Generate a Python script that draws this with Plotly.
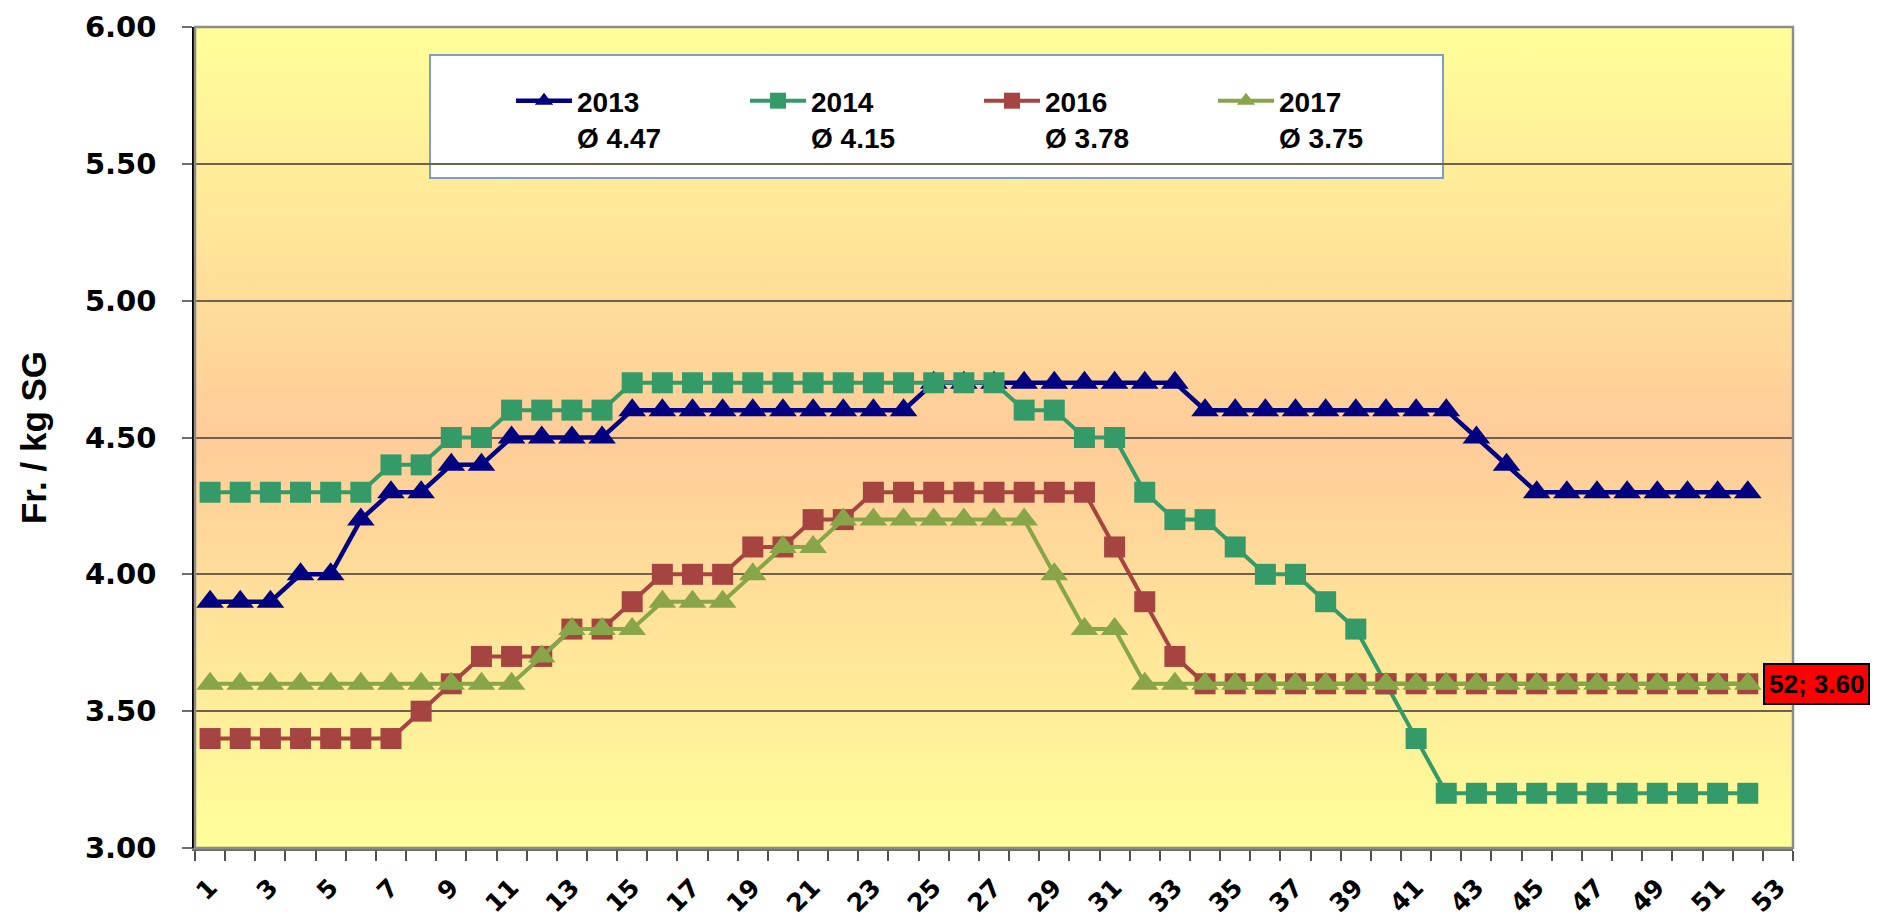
import base64
import plotly.graph_objects as go

weeks = list(range(1, 53))
y2013 = [3.9, 3.9, 3.9, 4.0, 4.0, 4.2, 4.3, 4.3, 4.4, 4.4, 4.5, 4.5, 4.5, 4.5,
         4.6, 4.6, 4.6, 4.6, 4.6, 4.6, 4.6, 4.6, 4.6, 4.6,
         4.7, 4.7, 4.7, 4.7, 4.7, 4.7, 4.7, 4.7, 4.7,
         4.6, 4.6, 4.6, 4.6, 4.6, 4.6, 4.6, 4.6, 4.6,
         4.5, 4.4, 4.3, 4.3, 4.3, 4.3, 4.3, 4.3, 4.3, 4.3]
y2014 = [4.3, 4.3, 4.3, 4.3, 4.3, 4.3, 4.4, 4.4, 4.5, 4.5, 4.6, 4.6, 4.6, 4.6,
         4.7, 4.7, 4.7, 4.7, 4.7, 4.7, 4.7, 4.7, 4.7, 4.7, 4.7, 4.7, 4.7,
         4.6, 4.6, 4.5, 4.5, 4.3, 4.2, 4.2, 4.1, 4.0, 4.0, 3.9, 3.8, 3.6, 3.4,
         3.2, 3.2, 3.2, 3.2, 3.2, 3.2, 3.2, 3.2, 3.2, 3.2, 3.2]
y2016 = [3.4, 3.4, 3.4, 3.4, 3.4, 3.4, 3.4, 3.5, 3.6, 3.7, 3.7, 3.7, 3.8, 3.8,
         3.9, 4.0, 4.0, 4.0, 4.1, 4.1, 4.2, 4.2,
         4.3, 4.3, 4.3, 4.3, 4.3, 4.3, 4.3, 4.3, 4.1, 3.9, 3.7,
         3.6, 3.6, 3.6, 3.6, 3.6, 3.6, 3.6, 3.6, 3.6, 3.6, 3.6, 3.6, 3.6, 3.6,
         3.6, 3.6, 3.6, 3.6, 3.6]
y2017 = [3.6, 3.6, 3.6, 3.6, 3.6, 3.6, 3.6, 3.6, 3.6, 3.6, 3.6, 3.7, 3.8, 3.8,
         3.8, 3.9, 3.9, 3.9, 4.0, 4.1, 4.1, 4.2, 4.2, 4.2, 4.2, 4.2, 4.2, 4.2,
         4.0, 3.8, 3.8, 3.6, 3.6, 3.6, 3.6, 3.6, 3.6, 3.6, 3.6, 3.6, 3.6, 3.6,
         3.6, 3.6, 3.6, 3.6, 3.6, 3.6, 3.6, 3.6, 3.6, 3.6]

series_names = ["2013", "2014", "2016", "2017"]
series_avgs = ["4.47", "4.15", "3.78", "3.75"]
series_colors = ["#000080", "#349B68", "#A64441", "#88A54A"]
series_symbols = ["triangle-up", "square", "square", "triangle-up"]
series_values = [y2013, y2014, y2016, y2017]

x_tick_vals = list(range(1, 54, 2))
x_tick_text = [str(v) for v in x_tick_vals]
y_tick_vals = [3.0, 3.5, 4.0, 4.5, 5.0, 5.5, 6.0]

label_week = 52
label_value = 3.60

# page body has an 8px margin; plot area target on screen: x 195..1793, y 27..848
OFF = 8
PL, PR, PT, PB = 195 - OFF, 1793 - OFF, 27 - OFF, 848 - OFF
W, H = 1878, 924
PW, PH = PR - PL, PB - PT


def px_x(sx):
    return (sx - OFF - PL) / PW


def px_y(sy):
    return (PB - (sy - OFF)) / PH


fig = go.Figure()

for name, avg, col, sym, vals in zip(series_names, series_avgs, series_colors,
                                      series_symbols, series_values):
    is_tri = sym.startswith("triangle")
    fig.add_trace(go.Scatter(
        x=weeks, y=vals, mode="lines+markers",
        name=f"{name}<br>Ø {avg}",
        line=dict(color=col, width=4.5 if name == "2013" else 4),
        marker=dict(symbol=sym, size=24 if is_tri else 21, color=col,
                    line=dict(width=0)),
    ))

# gradient background (image below grid)
svg = ('<svg xmlns="http://www.w3.org/2000/svg" width="10" height="100" '
       'viewBox="0 0 10 100" preserveAspectRatio="none"><defs>'
       '<linearGradient id="g" x1="0" y1="0" x2="0" y2="1">'
       '<stop offset="0" stop-color="#FFFF99"/>'
       '<stop offset="0.5" stop-color="#FFCC99"/>'
       '<stop offset="1" stop-color="#FFFF99"/>'
       '</linearGradient></defs>'
       '<rect x="0" y="0" width="10" height="100" fill="url(#g)"/></svg>')
src = "data:image/svg+xml;base64," + base64.b64encode(svg.encode()).decode()

fig.update_layout(
    width=W, height=H,
    margin=dict(l=PL, r=W - PR, t=PT, b=H - PB, autoexpand=False),
    paper_bgcolor="white",
    plot_bgcolor="#FFE6A0",
    images=[dict(source=src, xref="paper", yref="paper", x=0, y=1,
                 sizex=1, sizey=1, xanchor="left", yanchor="top",
                 sizing="stretch", layer="below")],
    showlegend=True,
    legend=dict(
        orientation="h", x=px_x(511), y=px_y(76), xanchor="left", yanchor="top",
        bgcolor="rgba(0,0,0,0)", borderwidth=0,
        font=dict(family="Liberation Sans", size=28, color="black", weight="bold"),
        entrywidth=163, entrywidthmode="pixels", valign="top",
        itemwidth=56, traceorder="normal",
    ),
    shapes=[
        dict(type="rect", xref="paper", yref="paper",
             x0=px_x(430), x1=px_x(1443), y0=px_y(178), y1=px_y(55),
             fillcolor="white", line=dict(color="#7F9DCB", width=2),
             layer="below"),
        dict(type="rect", xref="paper", yref="paper", x0=0, x1=1, y0=0, y1=1,
             line=dict(color="#8C8C8C", width=2.5), layer="above"),
    ],
    annotations=[dict(
        x=label_week, y=label_value, xref="x", yref="y",
        text=f"{label_week}; {label_value:.2f}", showarrow=False,
        xanchor="left", yanchor="middle", xshift=15,
        bgcolor="#FF0000", bordercolor="black", borderwidth=2, borderpad=4,
        font=dict(family="Liberation Sans", size=26, color="black", weight="bold"),
    )],
)

fig.update_xaxes(
    range=[0.5, 53.5], tickmode="array", tickvals=x_tick_vals, ticktext=x_tick_text,
    tickangle=-45, ticks="outside", ticklen=12, tickcolor="rgba(0,0,0,0)",
    tickfont=dict(family="DejaVu Sans", size=25, color="black", weight="bold"),
    showgrid=False, zeroline=False,
    showline=True, linecolor="#6E6E6E", linewidth=2.5,
    minor=dict(tick0=0.5, dtick=1, ticks="outside", ticklen=10,
               tickcolor="#505050", tickwidth=1.5, showgrid=False),
    fixedrange=True,
)
fig.update_yaxes(
    range=[3, 6], tickmode="array", tickvals=y_tick_vals, tickformat=".2f",
    ticks="outside", ticklen=10, tickcolor="#6E6E6E", tickwidth=1.5,
    tickfont=dict(family="DejaVu Sans", size=29, color="black", weight="bold"),
    ticklabelstandoff=20,
    showgrid=True, gridcolor="#6F6150", gridwidth=1.5,
    zeroline=False, showline=True, linecolor="black", linewidth=2.5,
    title=dict(text="Fr. / kg SG", standoff=28,
               font=dict(family="Liberation Sans", size=35, color="black", weight="bold")),
    fixedrange=True,
)

fig.write_html("out.html")
